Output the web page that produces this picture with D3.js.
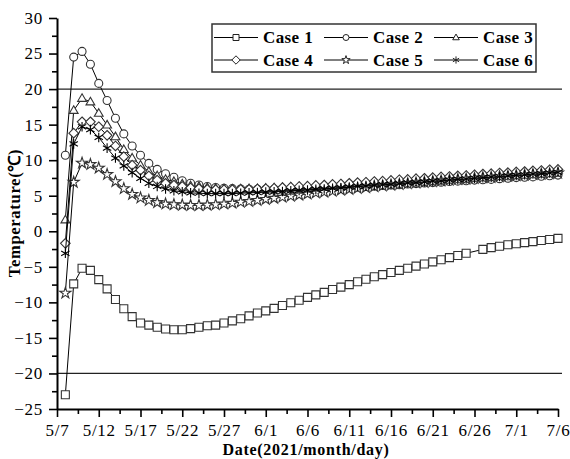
<!DOCTYPE html>
<html>
<head>
<meta charset="utf-8">
<script src="https://cdn.jsdelivr.net/npm/d3@7"></script>
<style>
  body { margin: 0; background: #fff; }
  svg { display: block; font-family: "Liberation Serif", "Times New Roman", serif; }
</style>
</head>
<body>
<div id="chart"></div>
<script>
// Datos: un valor por día, del 5/8 al 7/6
const seriesNames = ["Case 1", "Case 2", "Case 3", "Case 4", "Case 5", "Case 6"];

const case1 = [-23.0, -7.4, -5.2, -5.5, -6.8, -8.1, -9.6, -10.9, -12.0, -12.9,
  -13.2, -13.5, -13.75, -13.85, -13.85, -13.7, -13.5, -13.3, -13.2, -12.9,
  -12.6, -12.3, -11.9, -11.5, -11.2, -10.85, -10.45, -10.05, -9.7, -9.3,
  -8.95, -8.6, -8.2, -7.85, -7.5, -7.1, -6.75, -6.4, -6.1, -5.8,
  -5.5, -5.2, -4.9, -4.6, -4.3, -4.0, -3.7, -3.4, -3.1, null,
  -2.55, -2.3, -2.1, -1.9, -1.75, -1.6, -1.45, -1.3, -1.15, -1.0];

const case2 = [10.7, 24.5, 25.3, 23.5, 20.8, 18.4, 15.9, 13.7, 12.0, 10.7,
  9.55, 8.7, 8.1, 7.6, 7.1, 6.75, 6.5, 6.3, 6.15, 6.05,
  6.0, 5.95, 5.9, 5.9, 5.9, 5.9, 5.9, 5.95, 5.95, 5.95,
  6.0, 6.05, 6.1, 6.15, 6.2, 6.25, 6.3, 6.35, 6.45, 6.5,
  6.55, 6.65, 6.7, 6.8, 6.85, 6.9, 7.0, 7.05, 7.1, 7.2,
  7.25, 7.3, 7.4, 7.45, 7.55, 7.6, 7.65, 7.75, 7.8, 7.9];

const case3 = [1.6, 17.0, 18.7, 18.2, 16.6, 14.95, 13.3, 11.5, 10.3, 9.3,
  8.4, 7.8, 7.3, 7.0, 6.65, 6.4, 6.3, 6.15, 6.05, 6.0,
  5.95, 5.95, 6.0, 6.0, 6.05, 6.1, 6.15, 6.2, 6.25, 6.3,
  6.35, 6.45, 6.5, 6.6, 6.65, 6.75, 6.8, 6.9, 6.95, 7.05,
  7.15, 7.2, 7.3, 7.35, 7.45, 7.55, 7.6, 7.7, 7.75, 7.85,
  7.9, 8.0, 8.05, 8.15, 8.25, 8.3, 8.4, 8.45, 8.55, 8.6];

const case4 = [-1.7, 13.8, 15.4, 15.4, 14.7, 13.5, 12.0, 10.5, 9.3, 8.6,
  7.8, 7.2, 6.75, 6.5, 6.3, 6.1, 6.0, 5.9, 5.85, 5.85,
  5.85, 5.9, 5.9, 5.95, 6.0, 6.05, 6.15, 6.2, 6.3, 6.35,
  6.45, 6.5, 6.6, 6.65, 6.75, 6.85, 6.9, 7.0, 7.05, 7.15,
  7.25, 7.3, 7.4, 7.45, 7.55, 7.65, 7.7, 7.8, 7.85, 7.95,
  8.05, 8.1, 8.2, 8.25, 8.35, 8.4, 8.5, 8.55, 8.65, 8.7];

const case5 = [-8.7, 6.9, 9.6, 9.4, 8.9, 8.0, 7.0, 6.0, 5.2, 4.7,
  4.35, 4.05, 3.85, 3.75, 3.7, 3.65, 3.65, 3.7, 3.75, 3.85,
  3.95, 4.1, 4.2, 4.35, 4.5, 4.65, 4.8, 4.95, 5.1, 5.25,
  5.4, 5.5, 5.65, 5.8, 5.9, 6.05, 6.15, 6.3, 6.4, 6.5,
  6.6, 6.7, 6.8, 6.9, 7.0, 7.1, 7.2, 7.3, 7.35, 7.45,
  7.55, 7.6, 7.7, 7.75, 7.85, 7.9, 8.0, 8.05, 8.1, 8.2];

const case6 = [-3.1, 12.3, 14.7, 14.3, 13.2, 11.7, 10.3, 9.2, 8.25, 7.45,
  6.75, 6.3, 5.95, 5.7, 5.55, 5.4, 5.35, 5.3, 5.3, 5.3,
  5.3, 5.35, 5.4, 5.45, 5.5, 5.55, 5.6, 5.7, 5.75, 5.8,
  5.9, 5.95, 6.05, 6.1, 6.2, 6.3, 6.35, 6.45, 6.55, 6.6,
  6.7, 6.8, 6.85, 6.95, 7.05, 7.1, 7.2, 7.3, 7.35, 7.45,
  7.55, 7.6, 7.7, 7.8, 7.85, 7.95, 8.05, 8.1, 8.2, 8.3];

const xTickLabels = ["5/7", "5/12", "5/17", "5/22", "5/27", "6/1", "6/6",
  "6/11", "6/16", "6/21", "6/26", "7/1", "7/6"];
const yTickValues = [-25, -20, -15, -10, -5, 0, 5, 10, 15, 20, 25, 30];
const refLines = [20, -20];

const allSeries = [case1, case2, case3, case4, case5, case6];
const markerTypes = ["square", "circle", "triangle", "diamond", "star", "asterisk"];

// Dimensiones
const width = 570, height = 459;
const margin = { top: 18, right: 12, bottom: 50, left: 57 };
const plotRight = width - margin.right; // 558
const plotBottom = height - margin.bottom; // 409

const startDate = new Date(2021, 4, 7);
const endDate = new Date(2021, 6, 6);

const svg = d3.select("#chart")
  .append("svg")
  .attr("width", width)
  .attr("height", height);

const x = d3.scaleTime()
  .domain([startDate, endDate])
  .range([margin.left, plotRight]);

const y = d3.scaleLinear()
  .domain([-25, 30])
  .range([plotBottom, margin.top]);

// Líneas de referencia en 20 y -20
svg.selectAll(".ref")
  .data(refLines)
  .enter()
  .append("line")
  .attr("class", "ref")
  .attr("x1", margin.left)
  .attr("x2", plotRight + 4)
  .attr("y1", d => y(d))
  .attr("y2", d => y(d))
  .attr("stroke", "#222")
  .attr("stroke-width", 1.2);

// Eje X
const majorDates = xTickLabels.map((_, i) => d3.timeDay.offset(startDate, i * 5));
const minorDates = d3.range(0, 12).map(i => d3.timeHour.offset(startDate, 60 + i * 120));

const xMinor = svg.append("g")
  .attr("transform", `translate(0,${plotBottom})`)
  .call(d3.axisBottom(x).tickValues(minorDates).tickFormat("").tickSize(5).tickSizeOuter(0));
xMinor.select(".domain").remove();

const xAxis = svg.append("g")
  .attr("transform", `translate(0,${plotBottom})`)
  .call(d3.axisBottom(x).tickValues(majorDates)
    .tickFormat((d, i) => xTickLabels[i]).tickSize(8).tickSizeOuter(0).tickPadding(7));

// Eje Y
const yMinor = svg.append("g")
  .attr("transform", `translate(${margin.left},0)`)
  .call(d3.axisLeft(y).tickValues(yTickValues.slice(0, -1).map(v => v + 2.5))
    .tickFormat("").tickSize(5).tickSizeOuter(0));
yMinor.select(".domain").remove();

const yAxis = svg.append("g")
  .attr("transform", `translate(${margin.left},0)`)
  .call(d3.axisLeft(y).tickValues(yTickValues).tickSize(8).tickSizeOuter(0).tickPadding(6));

svg.selectAll(".domain").attr("stroke", "#000").attr("stroke-width", 2);
svg.selectAll(".tick line").attr("stroke", "#000").attr("stroke-width", 1.6);
svg.selectAll(".tick text")
  .attr("fill", "#000")
  .style("font-family", "'Liberation Serif', serif")
  .style("font-size", "17px")
  .style("letter-spacing", "0.7px");

// Títulos de ejes
svg.append("text")
  .attr("x", 306)
  .attr("y", 455)
  .attr("text-anchor", "middle")
  .style("font-size", "16px")
  .style("font-weight", "bold")
  .style("letter-spacing", "0.7px")
  .text("Date(2021/month/day)");

svg.append("text")
  .attr("transform", "translate(20,213) rotate(-90)")
  .attr("text-anchor", "middle")
  .style("font-size", "16.5px")
  .style("font-weight", "bold")
  .style("letter-spacing", "0.7px")
  .text("Temperature(℃)");

// Marcadores
function markerPath(type, s) {
  const h = s / 2;
  switch (type) {
    case "square":
      return `M${-h},${-h}H${h}V${h}H${-h}Z`;
    case "circle":
      return d3.symbol(d3.symbolCircle, Math.PI * h * h)();
    case "triangle":
      return `M0,${-h * 1.15}L${h * 1.1},${h * 0.75}L${-h * 1.1},${h * 0.75}Z`;
    case "diamond":
      return `M0,${-h * 1.2}L${h * 1.2},0L0,${h * 1.2}L${-h * 1.2},0Z`;
    case "star":
      return d3.symbol(d3.symbolStar, s * s * 0.6)();
    case "asterisk": {
      const a = h * 1.2, b = a * 0.87, c = a * 0.5;
      return `M0,${-a}V${a}M${-b},${-c}L${b},${c}M${-b},${c}L${b},${-c}`;
    }
  }
}

const line = d3.line()
  .x(d => x(d.date))
  .y(d => y(d.v));

allSeries.forEach((values, k) => {
  const data = values
    .map((v, i) => ({ date: d3.timeDay.offset(startDate, i + 1), v: v }))
    .filter(d => d.v !== null);
  const g = svg.append("g").attr("class", "series");

  g.append("path")
    .datum(data)
    .attr("fill", "none")
    .attr("stroke", "#000")
    .attr("stroke-width", 1)
    .attr("d", line);

  const isAst = markerTypes[k] === "asterisk";
  g.selectAll(".mk")
    .data(data)
    .enter()
    .append("path")
    .attr("class", "mk")
    .attr("transform", d => `translate(${x(d.date)},${y(d.v)})`)
    .attr("d", markerPath(markerTypes[k], 8))
    .attr("fill", isAst ? "none" : "#fff")
    .attr("stroke", isAst ? "#000" : "#333")
    .attr("stroke-width", 1.1);
});

// Leyenda
const legend = svg.append("g");
legend.append("rect")
  .attr("x", 212).attr("y", 24)
  .attr("width", 324).attr("height", 48)
  .attr("fill", "#fff")
  .attr("stroke", "#333")
  .attr("stroke-width", 1.5);

const colX = [214, 324, 434];
const rowY = [37.5, 60];
seriesNames.forEach((name, k) => {
  const cx = colX[k % 3], cy = rowY[Math.floor(k / 3)];
  const item = legend.append("g").attr("transform", `translate(${cx},${cy})`);
  item.append("line")
    .attr("x1", 0).attr("x2", 44)
    .attr("stroke", "#000").attr("stroke-width", 1);
  const isAst = markerTypes[k] === "asterisk";
  item.append("path")
    .attr("transform", "translate(22,0)")
    .attr("d", markerPath(markerTypes[k], k === 3 ? 7 : 6))
    .attr("fill", isAst ? "none" : "#fff")
    .attr("stroke", "#222")
    .attr("stroke-width", 1);
  item.append("text")
    .attr("x", 49)
    .attr("y", 5.5)
    .style("font-size", "17px")
    .style("font-weight", "bold")
    .style("letter-spacing", "0.4px")
    .text(name);
});
</script>
</body>
</html>
